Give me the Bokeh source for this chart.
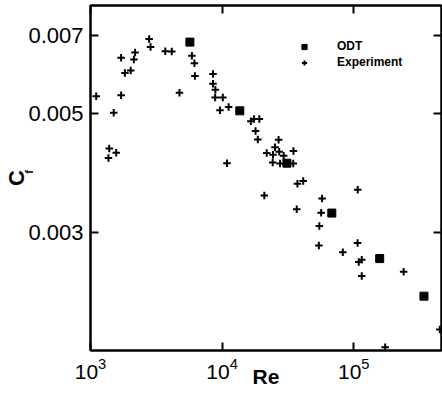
from bokeh.plotting import figure
from bokeh.models import (LogAxis, FixedTicker, PrintfTickFormatter, Legend,
                          LegendItem, Range1d, LogTicker, CustomJSTickFormatter)
from bokeh.embed import file_html
from bokeh.resources import INLINE

# ODT model results
odt_re = [5690, 13620, 31050, 68100, 157400, 341400]
odt_cf = [0.00680, 0.00506, 0.00404, 0.00326, 0.00268, 0.00228]

# Experimental data
exp_re = [1105, 1501, 1388, 1369, 1568, 1708, 1708, 1825, 2020, 2136, 2181, 2790, 2858,
          3700, 4143, 4740, 5894, 6158, 6212, 8518, 8518, 8882, 8851, 10120, 9623, 11200,
          10880, 16530, 17480, 19170, 17940, 18670, 26850, 25210, 21810, 27130, 24340,
          29340, 34810, 24220, 27550, 34690, 37330, 41300, 20920, 107200, 57420, 36870,
          56540, 54780, 54300, 106900, 82540, 115000, 109100, 115000, 239200, 450600, 173200]
exp_cf = [0.005388, 0.005019, 0.004301, 0.004133, 0.004227, 0.005408, 0.006355, 0.005952,
          0.006021, 0.006308, 0.006506, 0.006890, 0.006656, 0.006540, 0.006534, 0.005471,
          0.006410, 0.006206, 0.005876, 0.005926, 0.005687, 0.005543, 0.005357, 0.005357,
          0.005074, 0.005146, 0.004040, 0.004839, 0.004887, 0.004883, 0.004642, 0.004475,
          0.004466, 0.004327, 0.004219, 0.004244, 0.004187, 0.004172, 0.004256, 0.004053,
          0.004033, 0.004035, 0.003699, 0.003740, 0.003517, 0.003605, 0.003472, 0.003314,
          0.003265, 0.003084, 0.002835, 0.002866, 0.002755, 0.002667, 0.002640, 0.002487,
          0.002533, 0.001975, 0.001831]

y_ticks = [0.003, 0.005, 0.007]
x_lim = (1e3, 4.64e5)
y_lim = (0.001805, 0.00796)

FONT = "Liberation Sans"

p = figure(width=442, height=393, x_axis_type="log", y_axis_type="log",
           x_range=Range1d(*x_lim), y_range=Range1d(*y_lim),
           output_backend="svg", toolbar_location=None,
           min_border_left=89, min_border_right=1, min_border_top=5, min_border_bottom=43)
p.grid.visible = False
p.outline_line_color = "black"
p.outline_line_width = 2
p.background_fill_color = "white"
p.border_fill_color = "white"


def style_axis(ax):
    ax.axis_line_width = 2
    ax.axis_line_color = "black"
    ax.major_tick_in = 8
    ax.major_tick_out = 0
    ax.major_tick_line_width = 2
    ax.major_tick_line_color = "black"
    ax.minor_tick_line_color = None


blank = CustomJSTickFormatter(code="return ''")

# bottom axis with "Re" label
xa = p.xaxis[0]
style_axis(xa)
xa.ticker = LogTicker(desired_num_ticks=4)
xa.major_label_text_font = FONT
xa.major_label_text_font_size = "21px"
xa.major_label_text_color = "black"
xa.major_label_standoff = 3
xa.axis_label = "Re"
xa.axis_label_text_font = FONT
xa.axis_label_text_font_size = "21px"
xa.axis_label_text_font_style = "bold"
xa.axis_label_text_color = "black"
xa.axis_label_standoff = -17

# left axis: tick labels, subscript "f" as its label
ya = p.yaxis[0]
style_axis(ya)
ya.ticker = FixedTicker(ticks=y_ticks)
ya.formatter = PrintfTickFormatter(format="%.3f")
ya.major_label_text_font = FONT
ya.major_label_text_font_size = "22px"
ya.major_label_text_color = "black"
ya.major_label_standoff = 7
ya.axis_label = "\u00a0\u00a0\u00a0\u00a0f"
ya.axis_label_text_font = FONT
ya.axis_label_text_font_size = "11px"
ya.axis_label_text_font_style = "bold"
ya.axis_label_text_color = "black"
ya.axis_label_standoff = -10

# outer left axis carrying the "C" of C_f
yc = LogAxis(ticker=FixedTicker(ticks=[]), formatter=blank,
             major_label_text_font_size="0px", major_label_standoff=0,
             axis_line_color=None, major_tick_line_color=None, minor_tick_line_color=None,
             axis_label="C", axis_label_text_font=FONT, axis_label_text_font_size="22px",
             axis_label_text_font_style="bold", axis_label_text_color="black",
             axis_label_standoff=-8)
p.add_layout(yc, "left")

top = LogAxis(ticker=LogTicker(desired_num_ticks=4), formatter=blank,
              major_label_text_font_size="0px", major_label_standoff=0)
style_axis(top)
p.add_layout(top, "above")

right = LogAxis(ticker=FixedTicker(ticks=y_ticks), formatter=blank,
                major_label_text_font_size="0px", major_label_standoff=0)
style_axis(right)
p.add_layout(right, "right")

sq = p.scatter(odt_re, odt_cf, marker="square", size=8, fill_color="black", line_color="black")
cr = p.scatter(exp_re, exp_cf, marker="cross", size=7.5, line_width=2, line_color="black")

legend = Legend(items=[LegendItem(label="ODT", renderers=[sq]),
                       LegendItem(label="Experiment", renderers=[cr])],
                location=(204, 281), padding=0, margin=0, spacing=2,
                glyph_width=20, glyph_height=13, label_height=13, label_standoff=23,
                border_line_color=None, background_fill_alpha=0,
                label_text_font=FONT, label_text_font_size="12px",
                label_text_font_style="bold", label_text_color="black")
p.add_layout(legend)

open("out.html", "w").write(file_html(p, INLINE))
